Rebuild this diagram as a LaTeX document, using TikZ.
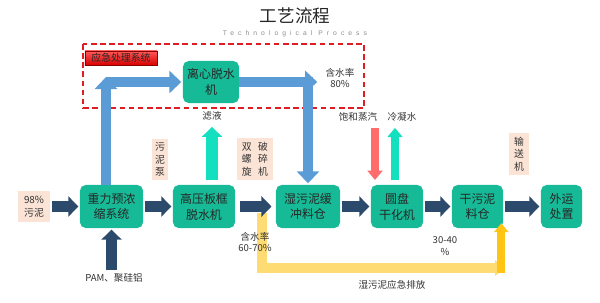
\documentclass[tikz,border=0pt]{standalone}
\usepackage{fontspec}
\setmainfont{Noto Sans CJK SC}
\newfontfamily\subfont[LetterSpace=60]{Liberation Sans}
\usepackage{xcolor}
\usetikzlibrary{arrows.meta, positioning}

\definecolor{procgreen}{RGB}{22,186,150}
\definecolor{navyflow}{RGB}{44,74,108}
\definecolor{blueflow}{RGB}{92,156,214}
\definecolor{aquaflow}{RGB}{20,224,192}
\definecolor{redflow}{RGB}{255,108,108}
\definecolor{yelflow}{RGB}{255,220,115}
\definecolor{goldflow}{RGB}{255,196,20}
\definecolor{tagpeach}{RGB}{251,228,214}
\definecolor{boxred}{RGB}{222,30,36}

\begin{document}
\begin{tikzpicture}[x=0.025cm, y=-0.025cm,
        proc/.style={rounded corners=4pt, fill=procgreen, text=black!85, align=center,
            minimum height=1.075cm, inner sep=1pt, font=\fontsize{8.5}{11.3}\selectfont},
        tag/.style={fill=tagpeach, text=black!80, align=center, inner sep=1pt,
            font=\fontsize{7}{9}\selectfont},
        note/.style={text=black!80, align=center, inner sep=1pt, font=\fontsize{6.8}{8.5}\selectfont},
        navyarrow/.style={draw=navyflow, line width=2.8mm, -{Triangle[length=2.5mm, width=5mm]},
            shorten <=1pt, shorten >=1pt},
        bluearrow/.style={draw=blueflow, line width=2.6mm, -{Triangle[length=3mm, width=5.5mm]}},
        aquaarrow/.style={draw=aquaflow, line width=2.8mm, -{Triangle[length=2.5mm, width=5mm]}},
        steamarrow/.style={draw=redflow, line width=2mm, -{Triangle[length=2.3mm, width=3.7mm]}},
        condarrow/.style={steamarrow, draw=aquaflow},
        yelarrow/.style={draw=yelflow, line width=2.3mm, -{Triangle[length=2.5mm, width=3.8mm]}},
        goldarrow/.style={draw=goldflow, line width=2mm, -{Triangle[length=2.2mm, width=3.5mm]}}]

    \useasboundingbox (0,0) rectangle (600,303);

    \node[font=\fontsize{12.5}{14}\selectfont, text=black!85] (title) at (295,16) {工艺流程};
    \node[font=\subfont\fontsize{4.8}{5}\selectfont, text=black!45] (subtitle) at (295,34) {Technological Process};

    \draw[draw=boxred, line width=0.8pt, dash pattern=on 4pt off 2.5pt] (83,44) rectangle (364,108);
    \node[draw=red!55!black, top color=red!65, bottom color=red!85!black, text=black!85,
        minimum width=1.8cm, minimum height=0.35cm, inner sep=0.5pt,
        font=\fontsize{7}{8}\selectfont] (emlabel) at (121,58) {应急处理系统};

    \coordinate (yfork) at (262,213);
    \coordinate (yturn) at (505,268);
    \draw[yelarrow] (yfork) |- (yturn);

    \node[proc, minimum width=1.4cm, minimum height=1.05cm] (C) at (211,82) {离心脱水\\机};

    \node[proc, minimum width=1.575cm] (G) at (111.5,206.5) {重力预浓\\缩系统};
    \node[proc, minimum width=1.55cm] (H) at (204,206.5) {高压板框\\脱水机};
    \node[proc, minimum width=1.6cm] (W) at (308,206.5) {湿污泥缓\\冲料仓};
    \node[proc, minimum width=1.3cm] (D) at (397,206.5) {圆盘\\干化机};
    \node[proc, minimum width=1.275cm] (S) at (477.5,206.5) {干污泥\\料仓};
    \node[proc, minimum width=1.025cm] (O) at (561.5,206.5) {外运\\处置};

    \node[tag, minimum width=0.8cm, minimum height=0.75cm] (p98) at (34,206.5) {98\%\\污泥};
    \node[tag, minimum width=0.4cm, minimum height=1.03cm] (pump) at (160,159.5) {污\\泥\\泵};
    \node[tag, minimum width=0.9cm, minimum height=1.05cm] (screw) at (255,159)
        {双\hspace{0.65em}破\\螺\hspace{0.65em}碎\\旋\hspace{0.65em}机};
    \node[tag, minimum width=0.5cm, minimum height=1.05cm] (conv) at (519,154) {输\\送\\机};

    \node[note] (pam) at (114,278) {PAM、聚硅铝};
    \node[note] (filt) at (212,116) {滤液};
    \node[note] (wc80) at (340,78) {含水率\\80\%};
    \node[note] (wc60) at (255,242) {含水率\\60-70\%};
    \node[note] (steam) at (358,117) {饱和蒸汽};
    \node[note] (cond) at (402,117) {冷凝水};
    \node[note] (wc30) at (445,246) {30-40\\\%};
    \node[note] (spill) at (392,285) {湿污泥应急排放};

    \draw[navyarrow] (p98) -- (G);
    \draw[navyarrow] (G) -- (H);
    \draw[navyarrow, shorten <=3pt, shorten >=3pt] (H) -- (W);
    \draw[navyarrow] (W) -- (D);
    \draw[navyarrow] (D) -- (S);
    \draw[navyarrow] (S) -- (O);
    \draw[navyarrow] (G.south |- pam.north) -- (G.south);

    \coordinate (blup) at (106,77);
    \draw[bluearrow, shorten >=1pt] (blup |- C.west) -- (C.west);
    \draw[bluearrow] (blup |- G.north) -- (blup);
    \draw[bluearrow] (C.east) -- ([xshift=2.3mm]W.north |- C.east);
    \draw[bluearrow, shorten >=1pt] ([yshift=1.2mm]W.north |- C.east) -- (W.north);

    \draw[aquaarrow, shorten >=1.2mm] ([yshift=1.2mm]filt.south |- H.north) -- (filt.south);
    \draw[steamarrow, shorten <=1.2mm] ([xshift=-5.5mm]D.north |- steam.south) -- ([xshift=-5.5mm,yshift=1.2mm]D.north);
    \draw[condarrow, shorten >=1.2mm] ([xshift=-0.5mm,yshift=1.2mm]D.north) -- ([xshift=-0.5mm]D.north |- cond.south);

    \draw[goldarrow] ([xshift=-0.5mm,yshift=-1.2mm]S.south east |- yturn) -- ([xshift=-0.5mm,yshift=1.25mm]S.south east);

\end{tikzpicture}
\end{document}
